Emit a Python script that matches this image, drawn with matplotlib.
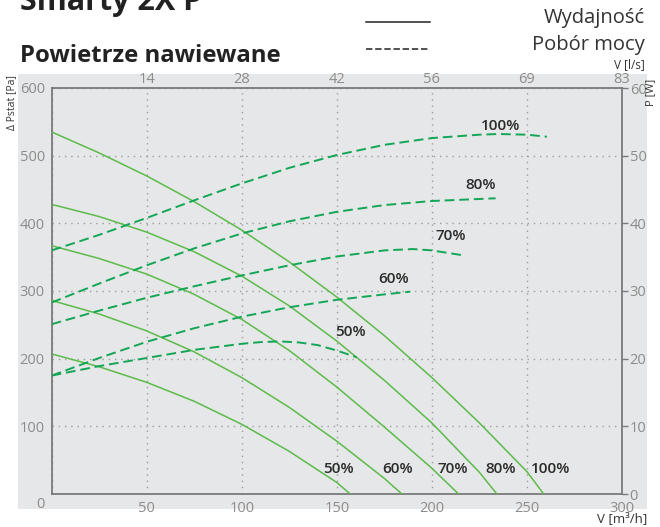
import matplotlib
matplotlib.use('Agg')
import matplotlib.pyplot as plt
from matplotlib.patches import Rectangle
from matplotlib.lines import Line2D

plt.rcParams['font.family'] = ['Open Sans', 'DejaVu Sans']
plt.rcParams['lines.scale_dashes'] = False

# ---------------- data ----------------
speeds = ['50%', '60%', '70%', '80%', '100%']

# pressure curves (V [m3/h] -> dP [Pa])
p_flow = {
    '100%': [0, 25, 50, 75, 100, 125, 150, 175, 200, 225, 250, 258.8],
    '80%':  [0, 25, 50, 75, 100, 125, 150, 175, 200, 225, 234.2],
    '70%':  [0, 25, 50, 75, 100, 125, 150, 175, 200, 214],
    '60%':  [0, 25, 50, 75, 100, 125, 150, 175, 184.2],
    '50%':  [0, 25, 50, 75, 100, 125, 150, 157],
}
p_val = {
    '100%': [535, 504, 470, 432, 390, 343, 291, 234, 172, 105, 33, 0],
    '80%':  [428, 410, 387, 358, 322, 278, 226, 168, 105, 32, 0],
    '70%':  [367, 348, 325, 295, 258, 212, 158, 99, 38, 0],
    '60%':  [286, 266, 241, 210, 172, 128, 78, 23, 0],
    '50%':  [207, 188, 165, 137, 103, 63, 17, 0],
}

# power curves (V [m3/h] -> P [W])
w_flow = {
    '100%': [0, 25, 50, 75, 100, 125, 150, 175, 200, 225, 235, 250, 260.5],
    '80%':  [0, 25, 50, 75, 100, 125, 150, 175, 200, 225, 233.5],
    '70%':  [0, 25, 50, 75, 100, 125, 150, 175, 190, 200, 215.8],
    '60%':  [0, 25, 50, 75, 100, 125, 150, 175, 188.6],
    '50%':  [0, 25, 50, 75, 100, 110, 120, 130, 140, 150, 160.5],
}
w_val = {
    '100%': [36.0, 38.3, 40.8, 43.4, 45.9, 48.2, 50.1, 51.6, 52.6, 53.1, 53.2, 53.1, 52.8],
    '80%':  [28.3, 31.1, 33.8, 36.3, 38.5, 40.3, 41.7, 42.7, 43.3, 43.6, 43.7],
    '70%':  [25.1, 27.1, 29.0, 30.7, 32.3, 33.8, 35.1, 36.0, 36.2, 36.0, 35.3],
    '60%':  [17.5, 20.1, 22.5, 24.5, 26.2, 27.6, 28.7, 29.5, 29.9],
    '50%':  [17.5, 18.9, 20.1, 21.3, 22.2, 22.45, 22.55, 22.4, 22.0, 21.2, 20.2],
}

x_ticks = [0, 50, 100, 150, 200, 250, 300]
x_ticklabels = ['', '50', '100', '150', '200', '250', '300']
ls_ticks = [50, 100, 150, 200, 250, 300]
ls_labels = ['14', '28', '42', '56', '69', '83']
y_ticks = [0, 100, 200, 300, 400, 500, 600]
y_ticklabels = ['', '100', '200', '300', '400', '500', '600']
w_ticks = [0, 10, 20, 30, 40, 50, 60]

# label positions (annotation)
bottom_label_pos = {'50%': (150.7, 37), '60%': (182, 37), '70%': (211, 37),
                    '80%': (236, 37), '100%': (262.3, 37)}
top_label_pos = {'50%': (157, 240), '60%': (180, 317), '70%': (210, 381),
                 '80%': (225.8, 456), '100%': (236, 544)}

# ---------------- figure ----------------
W, H = 660, 527
fig = plt.figure(figsize=(W / 100, H / 100), dpi=100)
fx = lambda px: px / W
fy = lambda py: 1 - py / H

BG = '#e6e7e8'
SOLID = '#5cbb4a'
DASH = '#13a656'
TICKC = '#8c8c8c'
SPINE = '#7a7a7a'

fig.patches.append(Rectangle((fx(18), fy(509)), fx(647) - fx(18), fy(74) - fy(509),
                             transform=fig.transFigure, facecolor=BG,
                             edgecolor='none', zorder=-10))

ax = fig.add_axes([fx(51.7), fy(494), fx(622) - fx(51.7), fy(88) - fy(494)])
ax.set_zorder(1)
ax.set_facecolor('none')
ax.set_xlim(0, 300)
ax.set_ylim(0, 600)

ax.set_xticks(x_ticks, x_ticklabels)
ax.set_yticks(y_ticks, y_ticklabels)
ax.tick_params(axis='both', length=0, colors=TICKC, labelsize=10.5)
ax.tick_params(axis='x', pad=5)
ax.tick_params(axis='y', pad=5)
ax.grid(True, linestyle=(0, (1, 3.5)), color='#9c9c9c', lw=1)
for s in ax.spines.values():
    s.set_color(SPINE)
    s.set_linewidth(1.3)

sec = ax.secondary_xaxis('top')
sec.set_xticks(ls_ticks, ls_labels)
sec.tick_params(length=0, colors=TICKC, labelsize=10.5, pad=1)
sec.spines['top'].set_visible(False)

ax2 = ax.twinx()
ax2.set_ylim(0, 60)
ax2.set_yticks(w_ticks, [str(t) for t in w_ticks])
ax2.tick_params(axis='y', length=4, width=1, color=SPINE, colors=TICKC,
                labelsize=10.5, pad=1.5)
for s in ax2.spines.values():
    s.set_visible(False)

for sp in speeds:
    ax.plot(p_flow[sp], p_val[sp], color=SOLID, lw=1.1, solid_joinstyle='round', zorder=3)
    ax2.plot(w_flow[sp], w_val[sp], color=DASH, lw=1.4, dashes=(7, 3.5), zorder=3)

for sp in speeds:
    xb, yb = bottom_label_pos[sp]
    ax.text(xb, yb, sp, ha='center', va='center', fontsize=11,
            fontweight='semibold', color='#2b2b2b', zorder=5)
    xt, yt = top_label_pos[sp]
    ax.text(xt, yt, sp, ha='center', va='center', fontsize=11,
            fontweight='semibold', color='#2b2b2b', zorder=5)

# shared zero label
fig.text(fx(40), fy(505), '0', ha='center', va='center', fontsize=10.5, color=TICKC)

# titles
fig.text(fx(20), fy(10), 'Smarty 2X P', ha='left', va='baseline', fontsize=22,
         fontweight='bold', color='#222222')
fig.text(fx(20), fy(62), 'Powietrze nawiewane', ha='left', va='baseline',
         fontsize=17.2, fontweight='bold', color='#222222')

# legend
fig.add_artist(Line2D([fx(366), fx(430)], [fy(22), fy(22)], transform=fig.transFigure,
                      color='#222222', lw=1.1))
fig.add_artist(Line2D([fx(366), fx(430)], [fy(49), fy(49)], transform=fig.transFigure,
                      color='#222222', lw=1.1, dashes=(4.6, 2)))
fig.text(fx(645), fy(18), 'Wydajność', ha='right', va='center', fontsize=14.5, color='#333333')
fig.text(fx(645), fy(45), 'Pobór mocy', ha='right', va='center', fontsize=14.5, color='#333333')

# axis names
fig.text(fx(645), fy(65), 'V [l/s]', ha='right', va='center', fontsize=8.5, color='#333333')
fig.text(fx(647), fy(519), 'V [m³/h]', ha='right', va='center', fontsize=9.5, color='#333333')
fig.text(fx(12), fy(102), 'Δ Pstat [Pa]', ha='center', va='center', rotation=90,
         fontsize=7.5, color='#333333')
fig.text(fx(651), fy(92), 'P [W]', ha='center', va='center', rotation=90,
         fontsize=8, color='#333333')

fig.savefig('out.png', dpi=100)
